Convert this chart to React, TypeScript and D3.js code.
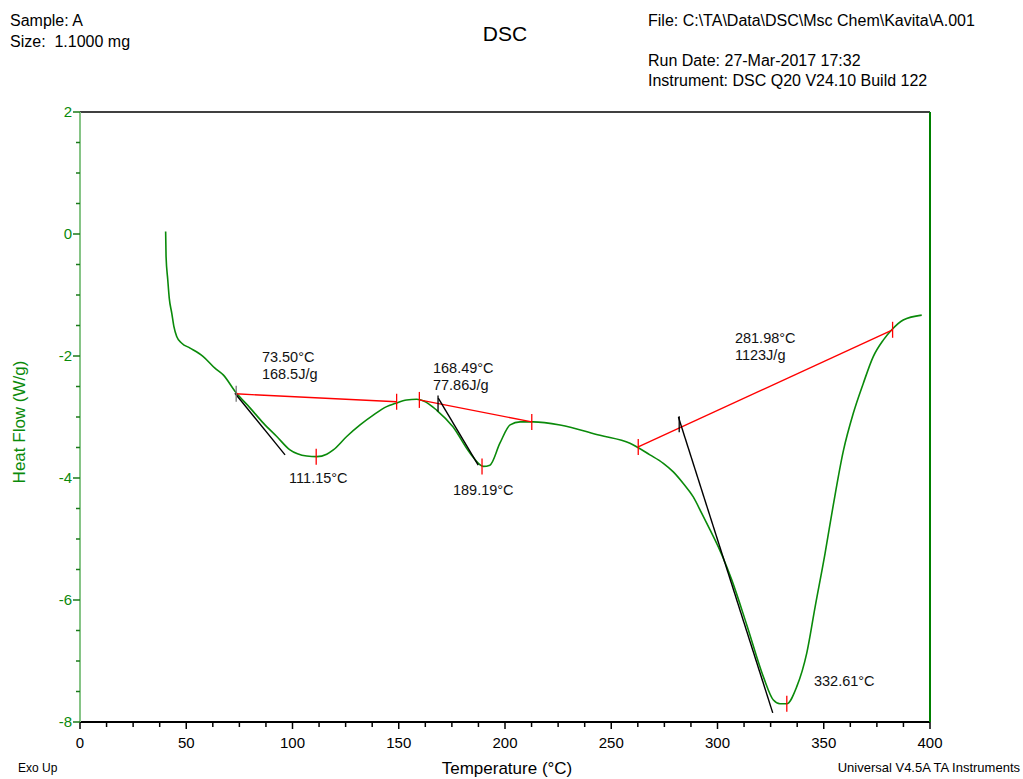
import React from 'react';
import * as d3 from 'd3';

// DSC trace (temperature °C, heat flow W/g)
const temps = [40.3, 40.5, 41.3, 42.0, 43.2, 44.2, 45.5, 47.9, 51.8, 58.0, 63.5, 67.4, 73.4, 80.0, 86.3, 92.6, 98.8, 106.7, 111.4, 116.1, 119.2, 125.5, 131.8, 138.0, 144.3, 148.2, 153.7, 158.4, 162.0, 167.9, 175.5, 183.5, 189.8, 192.9, 197.6, 202.4, 207.1, 213.3, 225.9, 244.7, 258.8, 268.2, 274.5, 279.2, 283.9, 288.6, 292.6, 296.5, 300.4, 304.3, 306.7, 313.7, 321.6, 326.3, 329.4, 332.6, 337.3, 342.0, 345.9, 350.6, 354.5, 359.2, 363.9, 368.6, 373.3, 378.0, 382.0, 387.4, 396.1];
const heatFlow = [0.04, -0.37, -0.75, -1.05, -1.30, -1.52, -1.68, -1.79, -1.87, -2.01, -2.20, -2.31, -2.60, -2.85, -3.10, -3.32, -3.54, -3.64, -3.65, -3.61, -3.54, -3.32, -3.13, -2.97, -2.83, -2.78, -2.72, -2.71, -2.74, -2.89, -3.16, -3.59, -3.81, -3.79, -3.43, -3.13, -3.08, -3.08, -3.13, -3.30, -3.43, -3.62, -3.76, -3.90, -4.09, -4.31, -4.58, -4.85, -5.13, -5.45, -5.67, -6.40, -7.26, -7.64, -7.70, -7.70, -7.42, -6.87, -6.12, -5.24, -4.44, -3.56, -2.94, -2.45, -2.01, -1.74, -1.57, -1.41, -1.33];

// integration baselines (red) and onset tangents (black), as [T, HF] pairs
const baselines: [number, number][][] = [
  [[73.2, -2.62], [149.0, -2.75]],
  [[159.7, -2.72], [212.6, -3.08]],
  [[262.7, -3.49], [382.4, -1.57]],
];
const tangents: [number, number][][] = [
  [[72.9, -2.61], [96.5, -3.62]],
  [[168.6, -2.69], [187.4, -3.79]],
  [[281.6, -3.0], [326.0, -7.85]],
];
const redMarks: [number, number][] = [[149.0, -2.75], [159.7, -2.72], [212.6, -3.08], [262.7, -3.49], [382.4, -1.57], [111.15, -3.65], [189.19, -3.81], [332.61, -7.70]];
const blackMarks: [number, number][] = [[73.5, -2.62], [168.49, -2.78], [281.98, -3.12]];

const annotations = [
  { lines: ['73.50°C', '168.5J/g'], t: 85.6, hf: -2.10 },
  { lines: ['111.15°C'], t: 98.4, hf: -4.08 },
  { lines: ['168.49°C', '77.86J/g'], t: 166.1, hf: -2.28 },
  { lines: ['189.19°C'], t: 175.5, hf: -4.28 },
  { lines: ['281.98°C', '1123J/g'], t: 308.2, hf: -1.79 },
  { lines: ['332.61°C'], t: 345.4, hf: -7.41 },
];

const xTicks = [0, 50, 100, 150, 200, 250, 300, 350, 400];
const yTicks = [2, 0, -2, -4, -6, -8];

const W = 1023;
const H = 779;
const left = 80, right = 930, top = 112, bottom = 722;
const font = 'Liberation Sans, Arial, sans-serif';
const green = '#0a8a0a';

export default function App() {
  const x = d3.scaleLinear().domain([0, 400]).range([left, right]);
  const y = d3.scaleLinear().domain([-8, 2]).range([bottom, top]);

  const line = d3.line<number>()
    .x((_, i) => x(temps[i]))
    .y(d => y(d))
    .curve(d3.curveMonotoneX);
  const seg = d3.line<[number, number]>().x(d => x(d[0])).y(d => y(d[1]));

  const xMinor = d3.range(0, 400.01, 12.5);
  const yMinor = d3.range(-8, 2.01, 0.5);

  return (
    <svg width={W} height={H} style={{ position: 'absolute', left: 0, top: 0, background: '#fff' }} fontFamily={font}>
      {/* header */}
      <text x={10} y={26} fontSize={16}>Sample: A</text>
      <text x={10} y={47} fontSize={16} style={{ whiteSpace: 'pre' }}>Size:  1.1000 mg</text>
      <text x={505} y={41} fontSize={21} textAnchor="middle">DSC</text>
      <text x={648} y={26} fontSize={16}>File: C:\TA\Data\DSC\Msc Chem\Kavita\A.001</text>
      <text x={648} y={66} fontSize={16}>Run Date: 27-Mar-2017 17:32</text>
      <text x={648} y={86} fontSize={16}>Instrument: DSC Q20 V24.10 Build 122</text>

      {/* frame */}
      <line x1={left} x2={right} y1={top} y2={top} stroke="#000" strokeWidth={1.5} />
      <line x1={left} x2={right} y1={bottom} y2={bottom} stroke="#000" strokeWidth={2} />
      <line x1={left} x2={left} y1={top} y2={bottom} stroke="#86c486" strokeWidth={2} />
      <line x1={right} x2={right} y1={top} y2={bottom} stroke="#008000" strokeWidth={2} />

      {/* x ticks */}
      {xMinor.map(t => (
        <line key={'xm' + t} x1={x(t)} x2={x(t)} y1={bottom} y2={bottom + (t % 50 === 0 ? 7 : 5)} stroke="#000" strokeWidth={1.5} />
      ))}
      {xTicks.map(t => (
        <text key={'xl' + t} x={x(t)} y={748} fontSize={15} textAnchor="middle">{t}</text>
      ))}

      {/* y ticks */}
      {yMinor.map(v => (
        <line key={'ym' + v} x1={left} x2={left - (Number.isInteger(v / 2) ? 7 : 4)} y1={y(v)} y2={y(v)} stroke="#1a7a1a" strokeWidth={1.5} />
      ))}
      {yTicks.map(v => (
        <text key={'yl' + v} x={72} y={y(v) + 5} fontSize={15} textAnchor="end" fill={green}>{v}</text>
      ))}

      {/* axis titles */}
      <text transform={`translate(25,${(top + bottom) / 2 + 5}) rotate(-90)`} fontSize={17} textAnchor="middle" fill={green}>Heat Flow (W/g)</text>
      <text x={507} y={774} fontSize={17} textAnchor="middle">Temperature (°C)</text>
      <text x={18} y={772} fontSize={12}>Exo Up</text>
      <text x={1020} y={772} fontSize={13} textAnchor="end">Universal V4.5A TA Instruments</text>

      {/* curve */}
      <path d={line(heatFlow) || ''} fill="none" stroke={green} strokeWidth={1.6} />

      {baselines.map((b, i) => (
        <path key={'b' + i} d={seg(b) || ''} fill="none" stroke="#ff0000" strokeWidth={1.4} />
      ))}
      {tangents.map((b, i) => (
        <path key={'t' + i} d={seg(b) || ''} fill="none" stroke="#000" strokeWidth={1.4} />
      ))}
      {redMarks.map(([t, v], i) => (
        <line key={'rm' + i} x1={x(t)} x2={x(t)} y1={y(v) - 8} y2={y(v) + 8} stroke="#ff0000" strokeWidth={1.3} />
      ))}
      {blackMarks.map(([t, v], i) => (
        <line key={'bm' + i} x1={x(t)} x2={x(t)} y1={y(v) - 8} y2={y(v) + 8} stroke={i === 0 ? '#777' : '#000'} strokeWidth={1.3} />
      ))}

      {annotations.map((a, i) => (
        <text key={'a' + i} x={x(a.t)} y={y(a.hf)} fontSize={14.5} fill="#111">
          {a.lines.map((l, j) => (
            <tspan key={j} x={x(a.t)} dy={j === 0 ? 0 : 17}>{l}</tspan>
          ))}
        </text>
      ))}
    </svg>
  );
}
